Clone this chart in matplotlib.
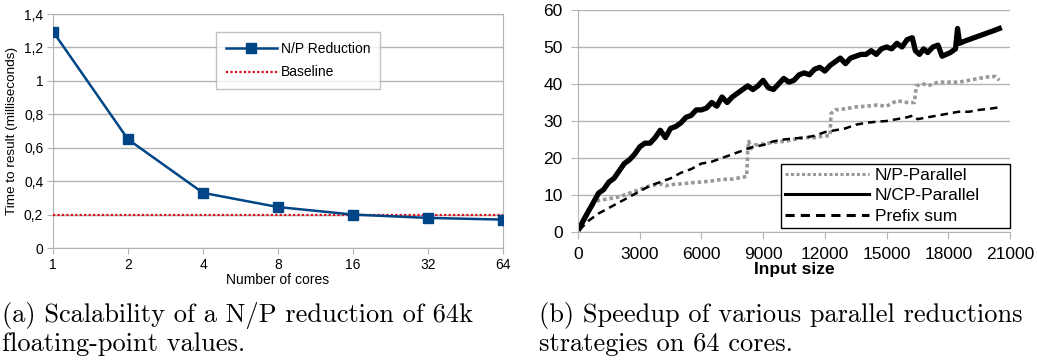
import matplotlib
matplotlib.use("Agg")
import matplotlib.pyplot as plt

# --- (a) scalability data ---
cores = ["1", "2", "4", "8", "16", "32", "64"]
np_reduction = [1.295, 0.65, 0.33, 0.245, 0.20, 0.18, 0.17]
baseline = 0.195
yticks_a = [0, 0.2, 0.4, 0.6, 0.8, 1.0, 1.2, 1.4]
ylabels_a = ["0", "0,2", "0,4", "0,6", "0,8", "1", "1,2", "1,4"]

# --- (b) speedup data ---
ncp_x = [64, 250, 500, 750, 1000, 1250, 1500, 1750, 2000, 2250, 2500, 2750, 3000, 3250,
         3500, 3750, 4000, 4250, 4500, 4750, 5000, 5250, 5500, 5750, 6000, 6250, 6500,
         6750, 7000, 7250, 7500, 7750, 8000, 8250, 8500, 8750, 9000, 9250, 9500, 9750,
         10000, 10250, 10500, 10750, 11000, 11250, 11500, 11750, 12000, 12250, 12500,
         12750, 13000, 13250, 13500, 13750, 14000, 14250, 14500, 14750, 15000, 15250,
         15500, 15750, 16000, 16250, 16400, 16600, 16800, 17000, 17250, 17500, 17700,
         17900, 18100, 18350, 18450, 18550, 18750, 19000, 19250, 19500, 19750, 20000,
         20250, 20480]
ncp_y = [1.0, 3.0, 5.5, 8.0, 10.5, 11.5, 13.5, 14.5, 16.5, 18.5, 19.5, 21.0, 23.0, 24.0,
         24.0, 25.5, 27.5, 25.5, 28.0, 28.5, 29.5, 31.0, 31.5, 33.0, 33.0, 33.5, 35.0,
         34.0, 36.5, 35.0, 36.5, 37.5, 38.5, 39.5, 38.5, 39.5, 41.0, 39.0, 38.5, 40.0,
         41.5, 40.5, 41.0, 42.5, 43.0, 42.5, 44.0, 44.5, 43.5, 45.0, 46.0, 47.0, 45.5,
         47.0, 47.5, 48.0, 48.0, 49.0, 48.0, 49.5, 50.0, 49.5, 51.0, 50.0, 52.0, 52.5,
         49.0, 48.0, 49.5, 48.5, 50.0, 50.5, 47.5, 48.0, 48.5, 49.5, 55.0, 51.0, 51.5,
         52.0, 52.5, 53.0, 53.5, 54.0, 54.5, 55.0]

np_x = [64, 250, 500, 750, 1000, 1500, 2000, 2500, 3000, 3500, 4000, 4250, 4500, 5000,
        5500, 6000, 6500, 7000, 7500, 8000, 8200, 8250, 8300, 8400, 8600, 9000, 9500,
        10000, 10500, 11000, 11500, 12000, 12250, 12300, 12500, 13000, 13500, 14000,
        14500, 15000, 15500, 16000, 16350, 16450, 16800, 17000, 17500, 18000, 18500,
        19000, 19500, 20000, 20300, 20480]
np_y = [1.0, 3.5, 6.0, 7.5, 8.5, 9.0, 9.5, 10.5, 11.5, 12.5, 13.0, 12.5, 12.8, 13.0,
        13.3, 13.5, 13.8, 14.2, 14.3, 14.8, 15.0, 22.0, 24.5, 22.5, 23.5, 23.8, 24.2,
        24.5, 25.0, 25.5, 25.5, 26.0, 26.0, 32.0, 33.0, 33.3, 33.8, 34.0, 34.3, 34.0,
        35.5, 35.0, 35.0, 39.5, 40.0, 39.5, 40.5, 40.5, 40.5, 41.0, 41.5, 42.0, 42.0,
        41.0]

prefix_x = [64, 500, 1000, 1500, 2000, 2500, 3000, 3500, 4000, 4500, 5000, 5500, 6000,
            6500, 7000, 7500, 8000, 8500, 9000, 9500, 10000, 10500, 11000, 11500, 12000,
            12500, 13000, 13500, 14000, 14500, 15000, 15500, 16000, 16300, 16500, 17000,
            17500, 18000, 18500, 19000, 19500, 20000, 20480]
prefix_y = [0.5, 3.0, 5.0, 6.5, 8.0, 9.5, 11.0, 12.5, 13.5, 14.5, 16.0, 17.0, 18.5,
            19.0, 20.0, 21.0, 22.0, 23.0, 23.5, 24.5, 25.0, 25.3, 25.5, 26.0, 27.0,
            27.5, 28.0, 29.0, 29.5, 29.8, 30.0, 30.5, 31.0, 31.5, 30.5, 31.0, 31.5,
            32.0, 32.5, 32.5, 33.0, 33.3, 33.7]

grid_c = "#b3b3b3"
sans = ["Liberation Sans", "DejaVu Sans"]

fig = plt.figure(figsize=(10.37, 3.64), dpi=100)

# ---------- left chart ----------
ax1 = fig.add_axes([53 / 1037, 1 - 248 / 364, 450 / 1037, 234 / 364])
pos = list(range(len(cores)))
ax1.axhline(baseline, color="#e0101a", lw=1.6, ls=(0, (1, 1)), label="Baseline", zorder=3)
ax1.plot(pos, np_reduction, color="#004586", lw=1.8, marker="s", ms=6.5,
         label="N/P Reduction", zorder=4)
ax1.set_xlim(0, 6)
ax1.set_ylim(0, 1.4)
ax1.set_xticks(pos)
ax1.set_xticklabels(cores, family=sans, fontsize=10)
ax1.set_yticks(yticks_a)
ax1.set_yticklabels(ylabels_a, family=sans, fontsize=10)
ax1.yaxis.grid(True, color=grid_c, lw=1)
ax1.set_axisbelow(True)
for s in ax1.spines.values():
    s.set_color(grid_c)
ax1.tick_params(colors=grid_c, labelcolor="black", length=4, pad=3)
ax1.set_xlabel("Number of cores", family=sans, fontsize=10, labelpad=1)
ax1.set_ylabel("Time to result (milliseconds)", family=sans, fontsize=9.7, labelpad=4)
h, l = ax1.get_legend_handles_labels()
leg1 = ax1.legend(h[::-1], l[::-1], loc="upper left", bbox_to_anchor=(0.362, 0.923),
                  borderaxespad=0, handlelength=3.7, handletextpad=0.3, labelspacing=0.7,
                  borderpad=0.7, fancybox=False, prop={"family": sans, "size": 10})
leg1.get_frame().set_edgecolor(grid_c)
leg1.get_frame().set_linewidth(1)

# ---------- right chart ----------
ax2 = fig.add_axes([578 / 1037, 1 - 232 / 364, 432 / 1037, 222 / 364])
ax2.plot(np_x, np_y, color="#999999", lw=2.6, ls=(0, (1, 0.8)), label="N/P-Parallel")
ax2.plot(ncp_x, ncp_y, color="black", lw=3.8, label="N/CP-Parallel")
ax2.plot(prefix_x, prefix_y, color="black", lw=1.8, ls=(0, (3, 2)), label="Prefix sum")
ax2.set_xlim(0, 21000)
ax2.set_ylim(0, 60)
ax2.set_xticks(range(0, 21001, 3000))
ax2.set_yticks(range(0, 61, 10))
ax2.tick_params(labelsize=12.5, colors=grid_c, labelcolor="black", length=5, pad=6)
for lab in ax2.get_xticklabels() + ax2.get_yticklabels():
    lab.set_family(sans)
ax2.yaxis.grid(True, color=grid_c, lw=1)
ax2.set_axisbelow(True)
ax2.spines["top"].set_visible(False)
ax2.spines["right"].set_visible(False)
ax2.spines["left"].set_color(grid_c)
ax2.spines["bottom"].set_color(grid_c)
ax2.set_xlabel("Input size", family=sans, fontsize=12.5, fontweight="bold", labelpad=0)
leg_x0 = (781 - 578) / 432
leg2 = ax2.legend(loc="lower left", bbox_to_anchor=(leg_x0, 0.018, 1 - leg_x0, 0.3),
                  mode="expand", borderaxespad=0,
                  handlelength=4.8, handletextpad=0.35, labelspacing=0.29, borderpad=0.25,
                  fancybox=False, prop={"family": sans, "size": 12.5})
leg2.get_frame().set_edgecolor("black")
leg2.get_frame().set_linewidth(1)
leg2.get_frame().set_alpha(1)
for line in leg2.get_lines():
    line.set_linewidth(2.2)

# ---------- captions ----------
cap = {"family": "cmr10", "fontsize": 19, "va": "baseline"}
fig.text(2 / 1037, 1 - 322 / 364, "(a) Scalability of a N/P reduction of 64k", **cap)
fig.text(2 / 1037, 1 - 351 / 364, "floating-point values.", **cap)
fig.text(539 / 1037, 1 - 322 / 364, "(b) Speedup of various parallel reductions", **cap)
fig.text(539 / 1037, 1 - 351 / 364, "strategies on 64 cores.", **cap)

fig.savefig("out.png", dpi=100)
